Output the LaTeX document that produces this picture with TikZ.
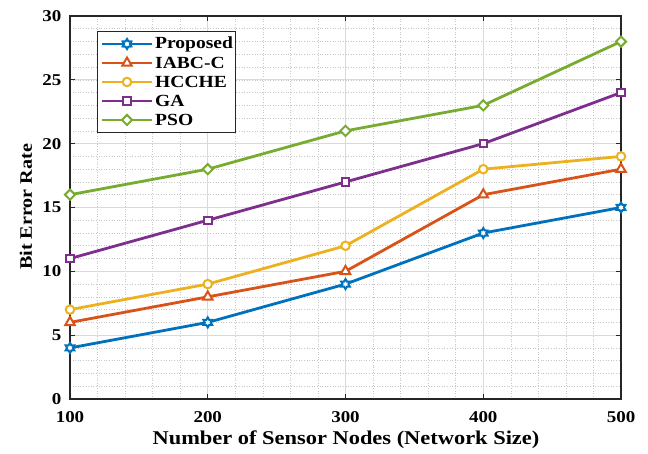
\documentclass[tikz,border=0pt]{standalone}
\usepackage{fontspec}
\setmainfont[FakeStretch=1.15]{Liberation Serif}
\usetikzlibrary{shapes.geometric}
\definecolor{cprop}{rgb}{0,0.447,0.741}
\definecolor{ciabc}{rgb}{0.85,0.325,0.098}
\definecolor{chcch}{rgb}{0.929,0.694,0.125}
\definecolor{cga}{rgb}{0.494,0.184,0.556}
\definecolor{cpso}{rgb}{0.466,0.674,0.188}
\begin{document}
\begin{tikzpicture}[x=1pt,y=1pt,
	gridmin/.style={black!22,dotted,line width=0.6pt},
	gridmaj/.style={black!15,line width=0.8pt},
	axisframe/.style={black!85,line width=1.1pt},
	ticklab/.style={font=\bfseries\fontsize{16.5}{16.5}\selectfont},
	series/.style={line width=2.8pt},
	mkbase/.style={draw,fill=white,line width=2pt,inner sep=0pt},
	mkhex/.style={mkbase,star,star points=6,star point ratio=1.7,minimum size=10pt},
	mktri/.style={mkbase,regular polygon,regular polygon sides=3,minimum size=11pt},
	mkcirc/.style={mkbase,circle,minimum size=8.5pt},
	mksq/.style={mkbase,rectangle,minimum size=7.5pt},
	mkdia/.style={mkbase,diamond,minimum size=11pt}]
	\useasboundingbox (0,0) rectangle (648,454);
	
	\begin{scope}[shift={(70,55)},x=137.75pt,y=12.767pt]
	% grid
	\foreach \gx in {1,...,19} \draw[gridmin] (\gx/5,0) -- (\gx/5,30);
	\foreach \gy in {1,...,29} \draw[gridmin] (0,\gy) -- (4,\gy);
	\foreach \gx in {1,2,3} \draw[gridmaj] (\gx,0) -- (\gx,30);
	\foreach \gy in {5,10,...,25} \draw[gridmaj] (0,\gy) -- (4,\gy);
	
	% frame and ticks
	\draw[axisframe] (0,0) rectangle (4,30);
	\foreach \gx in {0,...,4} {
		\draw[axisframe] (\gx,0) -- ++(0,5pt);
		\draw[axisframe] (\gx,30) -- ++(0,-5pt);
	}
	\foreach \gy in {0,5,...,30} {
		\draw[axisframe] (0,\gy) -- ++(5pt,0);
		\draw[axisframe] (4,\gy) -- ++(-5pt,0);
	}
	\foreach \gx/\lab in {0/100,1/200,2/300,3/400,4/500}
		\node[ticklab,anchor=north,yshift=-9pt] (xt\gx) at (\gx,0) {\lab};
	\foreach \gy in {0,5,...,30}
		\node[ticklab,anchor=east,xshift=-5pt] (yt\gy) at (0,\gy) {\gy};
	
	% data
	\foreach \nm/\cl/\mk/\vals in {
		pso/cpso/mkdia/{16,18,21,23,28},
		ga/cga/mksq/{11,14,17,20,24},
		hc/chcch/mkcirc/{7,9,12,18,19},
		ia/ciabc/mktri/{6,8,10,16,18},
		pr/cprop/mkhex/{4,6,9,13,15}} {
		\foreach \v [count=\i from 0] in \vals
			\coordinate (\nm\i) at (\i,\v);
		\draw[series,\cl] (\nm0) -- (\nm1) -- (\nm2) -- (\nm3) -- (\nm4);
		\foreach \i in {0,...,4}
			\node[\mk,draw=\cl] (m\nm\i) at (\nm\i) {};
	}
	\end{scope}
	
	% axis labels
	\node[font=\bfseries\fontsize{19.5}{20}\selectfont] (xlab) at (346,14) {Number of Sensor Nodes (Network Size)};
	\node[font=\bfseries\fontsize{17.5}{18}\selectfont,rotate=90] (ylab) at (26,247) {Bit Error Rate};
	
	% legend
	\node[draw=black!85,line width=0.9pt,fill=white,minimum width=138pt,minimum height=101pt,anchor=north west] (legbox) at (97,423) {};
	\foreach \nm/\cl/\mk/\txt [count=\k from 0] in {
		pr/cprop/mkhex/Proposed,
		ia/ciabc/mktri/IABC-C,
		hc/chcch/mkcirc/HCCHE,
		ga/cga/mksq/GA,
		pso/cpso/mkdia/PSO} {
		\coordinate (la\nm) at (102,410-19*\k);
		\coordinate (lb\nm) at (152,410-19*\k);
		\draw[series,\cl] (la\nm) -- (lb\nm);
		\node[\mk,draw=\cl] (lm\nm) at (127,410-19*\k) {};
		\node[anchor=west,font=\bfseries\fontsize{17}{17}\selectfont,inner sep=0pt] (lt\nm) at (155,410-19*\k) {\txt};
	}
\end{tikzpicture}
\end{document}
